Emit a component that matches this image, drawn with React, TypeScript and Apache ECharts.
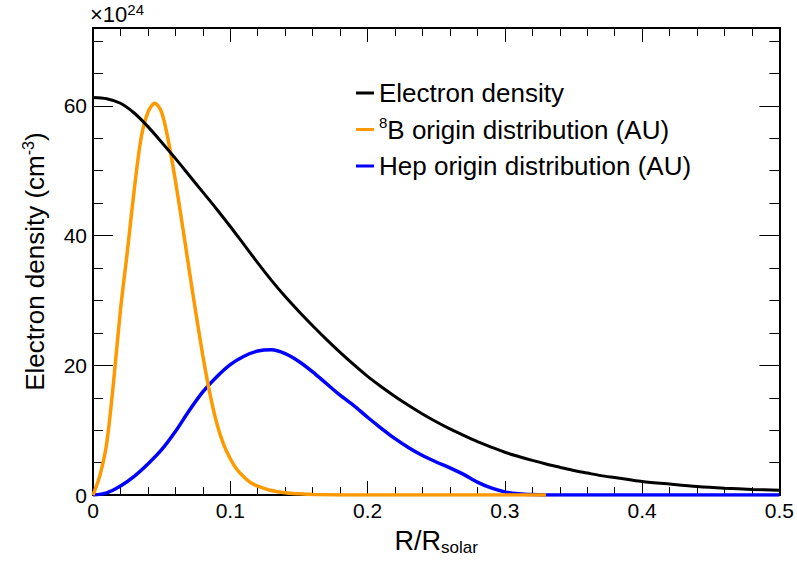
import { useEffect, useRef } from "react";
import * as echarts from "echarts";

// Electron density (x10^24 cm^-3) vs R/R_solar
const electronR = [0, 0.01, 0.02, 0.03, 0.04, 0.05, 0.06, 0.07, 0.08, 0.09, 0.1, 0.11, 0.12, 0.13, 0.14, 0.15, 0.16, 0.17, 0.18, 0.19, 0.2, 0.21, 0.22, 0.23, 0.24, 0.25, 0.26, 0.27, 0.28, 0.29, 0.3, 0.31, 0.32, 0.33, 0.34, 0.35, 0.36, 0.37, 0.38, 0.39, 0.4, 0.42, 0.44, 0.46, 0.48, 0.5];
const electronN = [61.3, 61.1, 60.4, 58.9, 56.8, 54.4, 51.9, 49.3, 46.7, 44.1, 41.4, 38.6, 35.8, 33.1, 30.6, 28.3, 26.1, 24.0, 22.0, 20.1, 18.3, 16.7, 15.2, 13.8, 12.5, 11.3, 10.2, 9.2, 8.25, 7.4, 6.6, 5.95, 5.35, 4.8, 4.3, 3.8, 3.4, 3.0, 2.7, 2.4, 2.1, 1.7, 1.33, 1.07, 0.88, 0.75];

// 8B origin distribution (arbitrary units)
const b8R = [0, 0.005, 0.01, 0.015, 0.02, 0.025, 0.03, 0.035, 0.04, 0.045, 0.05, 0.055, 0.06, 0.065, 0.07, 0.075, 0.08, 0.085, 0.09, 0.095, 0.1, 0.105, 0.11, 0.115, 0.12, 0.13, 0.14, 0.15, 0.16, 0.18, 0.2, 0.25, 0.3, 0.33];
const b8N = [0, 3.0, 8.0, 17.5, 28.5, 37.5, 47.0, 55.0, 59.0, 60.4, 59.0, 54.5, 48.5, 41.8, 34.8, 28.0, 21.5, 15.8, 11.2, 7.9, 5.6, 3.9, 2.8, 1.9, 1.4, 0.7, 0.35, 0.2, 0.1, 0.03, 0.01, 0, 0, 0];

// Hep origin distribution (arbitrary units)
const hepR = [0, 0.01, 0.02, 0.03, 0.04, 0.05, 0.06, 0.07, 0.08, 0.09, 0.1, 0.11, 0.12, 0.13, 0.14, 0.15, 0.16, 0.17, 0.18, 0.19, 0.2, 0.21, 0.22, 0.23, 0.24, 0.25, 0.26, 0.27, 0.28, 0.29, 0.3, 0.31, 0.32, 0.33, 0.34, 0.4, 0.45, 0.5];
const hepN = [0, 0.35, 1.4, 2.9, 4.8, 7.0, 9.8, 13.0, 15.9, 18.2, 20.1, 21.4, 22.2, 22.4, 21.8, 20.6, 19.0, 17.2, 15.4, 13.8, 12.0, 10.3, 8.7, 7.3, 6.1, 5.1, 4.2, 3.2, 2.0, 1.1, 0.5, 0.22, 0.08, 0.02, 0, 0, 0, 0];

const seriesNames = ["Electron density", "8B origin distribution (AU)", "Hep origin distribution (AU)"];
const seriesColors = ["#000000", "#ff9900", "#0000ff"];

const yMajorTicks = [0, 20, 40, 60];
const yMinorTicks = [5, 10, 15, 25, 30, 35, 45, 50, 55, 65, 70];

const FONT = "'Liberation Sans', Arial, Helvetica, sans-serif";

function pairs(xs: number[], ys: number[]) {
  return xs.map((x, i) => [x, ys[i]]);
}

export default function App() {
  const ref = useRef<HTMLDivElement>(null);
  useEffect(() => {
    const chart = echarts.init(ref.current!, null, { renderer: "svg" });
    const lineStyle = { color: "#000", width: 2 };
    const tickStyle = { color: "#000", width: 1 };
    const xBase = {
      type: "value",
      min: 0,
      max: 0.5,
      interval: 0.1,
      splitLine: { show: false },
      minorSplitLine: { show: false },
      axisLine: { show: true, onZero: false, lineStyle },
      axisTick: { show: true, inside: true, length: 14, lineStyle: tickStyle },
      minorTick: { show: true, splitNumber: 5, length: 8, lineStyle: tickStyle },
    };
    const yBase = {
      type: "value",
      min: 0,
      max: 72,
      interval: 20,
      splitLine: { show: false },
      axisLine: { show: true, onZero: false, lineStyle },
    };
    chart.setOption({
      animation: false,
      backgroundColor: "#ffffff",
      grid: { left: 93, right: 14, top: 28, bottom: 61 },
      title: {
        text: "×10{sup|24}",
        left: 90,
        top: 2,
        padding: 0,
        textStyle: {
          fontFamily: FONT,
          fontSize: 22,
          fontWeight: "normal",
          color: "#000",
          lineHeight: 24,
          rich: {
            sup: { fontFamily: FONT, fontSize: 15, color: "#000", verticalAlign: "top", lineHeight: 6 },
          },
        },
      },
      legend: {
        orient: "vertical",
        left: 356,
        top: 78,
        padding: 0,
        itemGap: 6.5,
        itemWidth: 18,
        itemHeight: 3,
        icon: "rect",
        data: seriesNames,
        formatter: (name: string) =>
          name.startsWith("8B") ? "{sup|8}" + name.slice(1) : name,
        textStyle: {
          fontFamily: FONT,
          fontSize: 26,
          color: "#000",
          lineHeight: 30,
          rich: {
            sup: { fontFamily: FONT, fontSize: 15, color: "#000", verticalAlign: "top", lineHeight: 5 },
          },
        },
      },
      xAxis: [
        {
          ...xBase,
          position: "bottom",
          axisLabel: {
            show: true,
            fontFamily: FONT,
            fontSize: 21,
            color: "#000",
            margin: 5,
          },
          name: "R/R{sub|solar}",
          nameLocation: "middle",
          nameGap: 26,
          nameTextStyle: {
            fontFamily: FONT,
            fontSize: 27,
            color: "#000",
            lineHeight: 30,
            rich: {
              sub: { fontFamily: FONT, fontSize: 17, color: "#000", verticalAlign: "bottom", lineHeight: 6 },
            },
          },
        },
        { ...xBase, position: "top", axisLabel: { show: false } },
      ],
      yAxis: [
        {
          ...yBase,
          position: "left",
          axisTick: { show: true, inside: true, length: 20, lineStyle: tickStyle, customValues: yMajorTicks },
          axisLabel: {
            show: true,
            customValues: yMajorTicks,
            fontFamily: FONT,
            fontSize: 21,
            color: "#000",
            margin: 6,
          },
          name: "Electron density (cm{sup|-3})",
          nameLocation: "middle",
          nameRotate: 90,
          nameGap: 43,
          nameTextStyle: {
            fontFamily: FONT,
            fontSize: 26,
            color: "#000",
            lineHeight: 30,
            rich: {
              sup: { fontFamily: FONT, fontSize: 16, color: "#000", verticalAlign: "top", lineHeight: 6 },
            },
          },
        },
        {
          ...yBase,
          position: "left",
          axisTick: { show: true, inside: true, length: 10, lineStyle: tickStyle, customValues: yMinorTicks },
          axisLabel: { show: false },
        },
        {
          ...yBase,
          position: "right",
          axisTick: { show: true, inside: true, length: 20, lineStyle: tickStyle, customValues: yMajorTicks },
          axisLabel: { show: false },
        },
        {
          ...yBase,
          position: "right",
          axisTick: { show: true, inside: true, length: 10, lineStyle: tickStyle, customValues: yMinorTicks },
          axisLabel: { show: false },
        },
      ],
      series: [
        {
          name: seriesNames[2],
          type: "line",
          data: pairs(hepR, hepN),
          showSymbol: false,
          smooth: 0.3,
          color: seriesColors[2],
          lineStyle: { color: seriesColors[2], width: 3.5 },
          z: 2,
        },
        {
          name: seriesNames[1],
          type: "line",
          data: pairs(b8R, b8N),
          showSymbol: false,
          smooth: 0.3,
          color: seriesColors[1],
          lineStyle: { color: seriesColors[1], width: 3.5 },
          z: 3,
        },
        {
          name: seriesNames[0],
          type: "line",
          data: pairs(electronR, electronN),
          showSymbol: false,
          smooth: 0.3,
          color: seriesColors[0],
          lineStyle: { color: seriesColors[0], width: 3 },
          z: 4,
        },
      ],
    });
    return () => chart.dispose();
  }, []);
  return (
    <div
      ref={ref}
      style={{ position: "absolute", left: 0, top: 0, width: 797, height: 561, background: "#fff" }}
    />
  );
}
